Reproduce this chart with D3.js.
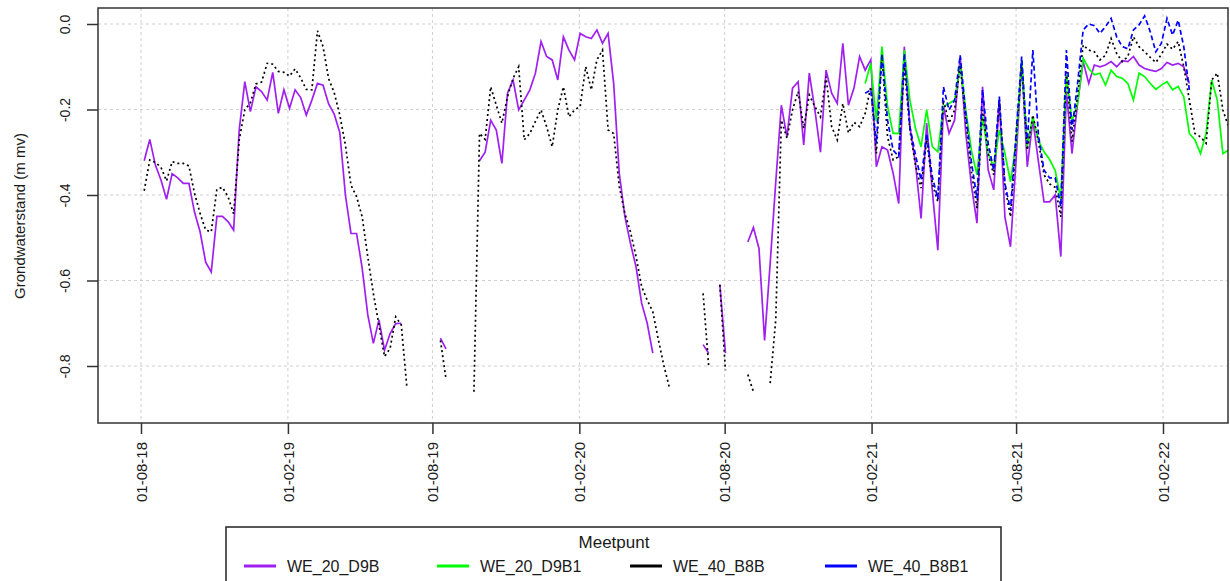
<!DOCTYPE html>
<html>
<head>
<meta charset="utf-8">
<script src="https://cdn.jsdelivr.net/npm/d3@7"></script>
<style>
  body { margin: 0; background: #fff; }
  text { font-family: "Liberation Sans", Arial, sans-serif; fill: #1a1a1a; }
</style>
</head>
<body>
<script>

//weekly readings, first value at the start date of the series
var d9bStart = '2018-08-05',
    b8bStart = '2018-08-05',
    b1Start = '2021-01-24';

var d9b = [
  -0.32, -0.27, -0.33, -0.365, -0.41, -0.35, -0.36, -0.373, -0.373, -0.44,
  -0.486, -0.557, -0.58, -0.45, -0.45, -0.462, -0.482, -0.248, -0.135, -0.205,
  -0.147, -0.158, -0.178, -0.113, -0.209, -0.154, -0.197, -0.154, -0.172, -0.213,
  -0.178, -0.139, -0.143, -0.187, -0.211, -0.254, -0.40, -0.49, -0.49, -0.571,
  -0.68, -0.747, -0.692, -0.763, -0.724, -0.701, -0.70, null, null, null,
  null, null, null, -0.735, -0.76, null, null, null, null, null,
  -0.32, -0.30, -0.225, -0.248, -0.326, -0.162, -0.131, -0.201, -0.178, -0.154,
  -0.115, -0.041, -0.076, -0.084, -0.131, -0.03, -0.061, -0.084, -0.022, -0.03,
  -0.034, -0.014, -0.045, -0.022, -0.139, -0.349, -0.45, -0.513, -0.568, -0.653,
  -0.70, -0.77, null, null, null, null, null, null, null, null,
  -0.75, -0.77, null, -0.61, -0.77, null, null, null, -0.51, -0.476,
  -0.525, -0.74, -0.56, -0.37, -0.19, -0.264, -0.15, -0.135, -0.283, -0.115,
  -0.201, -0.30, -0.108, -0.162, -0.186, -0.045, -0.19, -0.15, -0.076, -0.108,
  -0.084, -0.334, -0.287, -0.295, -0.349, -0.42, -0.053, -0.24, -0.326, -0.455,
  -0.232, -0.388, -0.529, -0.193, -0.256, -0.225, -0.076, -0.256, -0.377, -0.466,
  -0.147, -0.341, -0.388, -0.178, -0.451, -0.521, -0.318, -0.084, -0.334, -0.225,
  -0.322, -0.416, -0.416, -0.40, -0.544, -0.158, -0.303, -0.186, -0.088, -0.139,
  -0.096, -0.10, -0.096, -0.088, -0.10, -0.086, -0.088, -0.076, -0.096, -0.104,
  -0.108, -0.111, -0.104, -0.09, -0.096, -0.092, -0.10, -0.139
];

var b8b = [
  -0.39, -0.318, -0.324, -0.335, -0.367, -0.322, -0.326, -0.326, -0.332, -0.396,
  -0.443, -0.482, -0.486, -0.387, -0.382, -0.404, -0.444, -0.271, -0.201, -0.184,
  -0.14, -0.136, -0.092, -0.094, -0.111, -0.113, -0.122, -0.105, -0.126, -0.153,
  -0.154, -0.016, -0.053, -0.128, -0.161, -0.213, -0.283, -0.377, -0.404, -0.451,
  -0.544, -0.63, -0.704, -0.778, -0.759, -0.685, -0.704, -0.85, null, null,
  null, null, null, -0.74, -0.83, null, null, null, null, -0.86,
  -0.256, -0.27, -0.147, -0.19, -0.232, -0.17, -0.127, -0.10, -0.271, -0.256,
  -0.228, -0.201, -0.24, -0.287, -0.201, -0.147, -0.217, -0.201, -0.193, -0.10,
  -0.154, -0.084, -0.061, -0.248, -0.256, -0.38, -0.443, -0.486, -0.544, -0.614,
  -0.646, -0.673, -0.739, -0.80, -0.852, null, null, null, null, null,
  -0.63, -0.80, null, -0.61, -0.81, null, null, null, -0.82, -0.86,
  null, null, -0.84, -0.692, -0.225, -0.267, -0.201, -0.158, -0.244, -0.166,
  -0.193, -0.217, -0.123, -0.24, -0.271, -0.186, -0.255, -0.23, -0.24, -0.209,
  -0.147, -0.303, -0.076, -0.264, -0.318, -0.31, -0.10, -0.248, -0.33, -0.384,
  -0.271, -0.373, -0.416, -0.178, -0.232, -0.201, -0.096, -0.225, -0.345, -0.431,
  -0.201, -0.303, -0.353, -0.178, -0.381, -0.451, -0.271, -0.10, -0.295, -0.213,
  -0.275, -0.353, -0.374, -0.382, -0.451, -0.108, -0.275, -0.166, -0.049, -0.061,
  -0.065, -0.084, -0.073, -0.034, -0.069, -0.088, -0.076, -0.03, -0.053, -0.065,
  -0.078, -0.09, -0.071, -0.047, -0.059, -0.041, -0.10, -0.178, -0.256, -0.264,
  -0.279, -0.131, -0.115, -0.201, -0.24
];

var d9b1 = [
  -0.139, -0.092, -0.228, -0.053, -0.193, -0.256, -0.256, -0.061, -0.178, -0.244, -0.287,
  -0.201, -0.287, -0.299, -0.193, -0.186, -0.178, -0.096, -0.201, -0.295, -0.353,
  -0.217, -0.303, -0.334, -0.248, -0.303, -0.369, -0.279, -0.084, -0.287, -0.217,
  -0.273, -0.299, -0.317, -0.343, -0.41, -0.119, -0.228, -0.186, -0.08, -0.104,
  -0.119, -0.115, -0.143, -0.108, -0.123, -0.127, -0.139, -0.178, -0.115, -0.123,
  -0.139, -0.153, -0.143, -0.135, -0.154, -0.146, -0.17, -0.256, -0.271, -0.303,
  -0.256, -0.131, -0.178, -0.303, -0.295
];

var b8b1 = [
  -0.162, -0.154, -0.279, -0.069, -0.225, -0.295, -0.31, -0.069, -0.24, -0.306, -0.365,
  -0.256, -0.357, -0.408, -0.147, -0.201, -0.178, -0.073, -0.209, -0.322, -0.408,
  -0.154, -0.279, -0.342, -0.17, -0.373, -0.435, -0.256, -0.076, -0.279, -0.061,
  -0.26, -0.342, -0.36, -0.36, -0.427, -0.061, -0.248, -0.139, -0.014, 0.0,
  -0.004, -0.022, -0.006, 0.013, -0.03, -0.053, -0.058, -0.014, -0.002, 0.019,
  -0.018, -0.065, -0.045, 0.013, -0.026, 0.009, -0.053, -0.154
];

var tickDates = ['2018-08-01', '2019-02-01', '2019-08-01', '2020-02-01',
                 '2020-08-01', '2021-02-01', '2021-08-01', '2022-02-01'];
var yTicks = [0, -0.2, -0.4, -0.6, -0.8];

var seriesNames = ['WE_20_D9B', 'WE_20_D9B1', 'WE_40_B8B', 'WE_40_B8B1'],
    seriesColors = ['#a020f0', '#00ff00', '#000000', '#0000ff'],
    seriesDash = [null, null, '2,3', '5,3'];

var parse = d3.timeParse('%Y-%m-%d');

//turn the weekly arrays into date/value pairs
function toPoints(values, start) {
  var s = parse(start);
  return values.map(function(v, i) { return {date: d3.timeDay.offset(s, 7 * i), v: v}; });
}
var series = [
  toPoints(d9b, d9bStart),
  toPoints(d9b1, b1Start),
  toPoints(b8b, b8bStart),
  toPoints(b8b1, b1Start)
];

//plot box
var box = {left: 98, top: 8, right: 1228, bottom: 423};

var xScale = d3.scaleTime()
    .domain([parse(tickDates[0]), parse(tickDates[tickDates.length - 1])])
    .range([141, 1163]);
var yScale = d3.scaleLinear().domain([-0.8, 0]).range([366, 24]);

var svg = d3.select('body').append('svg')
    .attr('width', 1230)
    .attr('height', 581);

//grid
var grid = svg.append('g').attr('stroke', '#cfcfcf').attr('stroke-dasharray', '3,3').attr('stroke-width', 1);
grid.selectAll('.gx').data(tickDates).enter().append('line')
    .attr('x1', function(d) { return xScale(parse(d)); })
    .attr('x2', function(d) { return xScale(parse(d)); })
    .attr('y1', box.top).attr('y2', box.bottom);
grid.selectAll('.gy').data(yTicks).enter().append('line')
    .attr('x1', box.left).attr('x2', box.right)
    .attr('y1', function(d) { return yScale(d); })
    .attr('y2', function(d) { return yScale(d); });

//lines
svg.append('clipPath').attr('id', 'plotclip').append('rect')
    .attr('x', box.left).attr('y', box.top)
    .attr('width', box.right - box.left).attr('height', box.bottom - box.top);

var line = d3.line()
    .defined(function(d) { return d.v !== null; })
    .x(function(d) { return xScale(d.date); })
    .y(function(d) { return yScale(d.v); });

svg.append('g').attr('clip-path', 'url(#plotclip)')
  .selectAll('path').data(series).enter().append('path')
    .attr('d', line)
    .attr('fill', 'none')
    .attr('stroke', function(d, i) { return seriesColors[i]; })
    .attr('stroke-width', 1.7)
    .attr('stroke-dasharray', function(d, i) { return seriesDash[i]; });

//box
svg.append('rect')
    .attr('x', box.left).attr('y', box.top)
    .attr('width', box.right - box.left).attr('height', box.bottom - box.top)
    .attr('fill', 'none').attr('stroke', '#333').attr('stroke-width', 1.5);

//x axis
var xAxis = d3.axisBottom(xScale)
    .tickValues(tickDates.map(parse))
    .tickFormat(d3.timeFormat('%d-%m-%y'))
    .tickSize(11);
var gx = svg.append('g').attr('transform', 'translate(0,' + box.bottom + ')').call(xAxis);
gx.select('.domain').remove();
gx.selectAll('line').attr('stroke', '#333').attr('stroke-width', 1.5);
gx.selectAll('text')
    .attr('transform', 'rotate(-90)')
    .attr('x', -19).attr('y', 0).attr('dy', '0.35em')
    .style('text-anchor', 'end')
    .style('font-size', '15px')
    .attr('fill', '#1a1a1a');

//y axis
var yAxis = d3.axisLeft(yScale)
    .tickValues(yTicks)
    .tickFormat(function(d) { return d.toFixed(1); })
    .tickSize(11);
var gy = svg.append('g').attr('transform', 'translate(' + box.left + ',0)').call(yAxis);
gy.select('.domain').remove();
gy.selectAll('line').attr('stroke', '#333').attr('stroke-width', 1.5);
gy.selectAll('text')
    .attr('transform', 'rotate(-90)')
    .attr('x', 0).attr('y', -33).attr('dy', '0.35em')
    .style('text-anchor', 'middle')
    .style('font-size', '14px')
    .attr('fill', '#1a1a1a');

svg.append('text')
    .attr('transform', 'translate(20,216) rotate(-90)')
    .attr('text-anchor', 'middle')
    .attr('dy', '0.35em')
    .style('font-size', '15px')
    .text('Grondwaterstand (m mv)');

//legend
var legend = svg.append('g');
legend.append('rect')
    .attr('x', 226).attr('y', 527).attr('width', 775).attr('height', 70)
    .attr('fill', '#fff').attr('stroke', '#222').attr('stroke-width', 1.5);
legend.append('text')
    .attr('x', 614).attr('y', 548)
    .attr('text-anchor', 'middle')
    .style('font-size', '17px')
    .text('Meetpunt');
var legendX = [244, 437, 630, 825];
var item = legend.selectAll('.item').data(seriesNames).enter().append('g');
item.append('line')
    .attr('x1', function(d, i) { return legendX[i]; })
    .attr('x2', function(d, i) { return legendX[i] + 32; })
    .attr('y1', 566).attr('y2', 566)
    .attr('stroke', function(d, i) { return seriesColors[i]; })
    .attr('stroke-width', 3);
item.append('text')
    .attr('x', function(d, i) { return legendX[i] + 43; })
    .attr('y', 566).attr('dy', '0.35em')
    .style('font-size', '16px')
    .text(function(d) { return d; });

</script>
</body>
</html>
